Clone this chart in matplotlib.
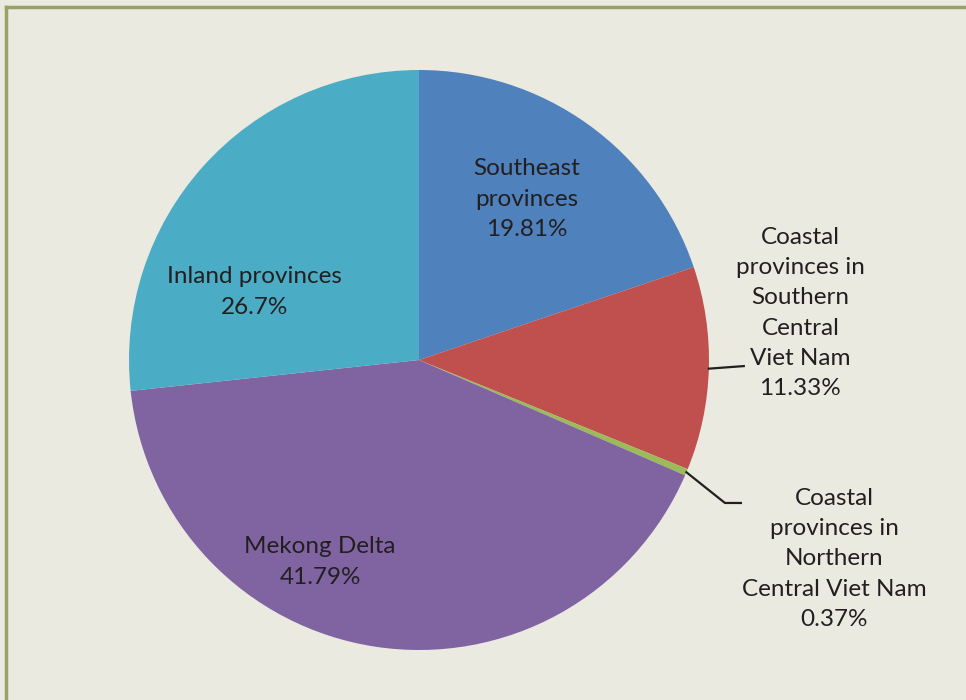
import numpy as np
import matplotlib
matplotlib.use('Agg')
import matplotlib.pyplot as plt
from matplotlib.lines import Line2D

# data
regions = ['Southeast\nprovinces', 'Coastal\nprovinces in\nSouthern\nCentral\nViet Nam',
           'Coastal\nprovinces in\nNorthern\nCentral Viet Nam', 'Mekong Delta', 'Inland provinces']
shares = [19.81, 11.33, 0.37, 41.79, 26.7]
share_labels = ['19.81%', '11.33%', '0.37%', '41.79%', '26.7%']
colors = ['#4F81BD', '#C0504D', '#9BBB59', '#8064A2', '#4BACC6']

# label placement (in pie radius units)
label_pos = [(0.372, 0.555), (1.315, 0.162), (1.431, -0.686), (-0.341, -0.697), (-0.566, 0.234)]
# leader line elbows for outside labels
leaders = {1: [(1.12, -0.021)], 2: [(1.055, -0.493), (1.110, -0.493)]}

bg = '#EBEAE0'
txt = '#231F20'
plt.rcParams['font.family'] = ['Lato', 'DejaVu Sans']

W, H = 966, 700
fig = plt.figure(figsize=(W / 100, H / 100), dpi=100, facecolor=bg)

cx, cy, r = 419, 360, 290
ax = fig.add_axes([(cx - r) / W, (H - cy - r) / H, 2 * r / W, 2 * r / H])
ax.set_facecolor(bg)

wedges, _ = ax.pie(shares, colors=colors, startangle=90, counterclock=False,
                   radius=1, wedgeprops=dict(linewidth=0))
ax.set_xlim(-1, 1)
ax.set_ylim(-1, 1)
ax.set_aspect('equal')
ax.axis('off')

for i, (name, lab) in enumerate(zip(regions, share_labels)):
    x, y = label_pos[i]
    ax.text(x, y, name + '\n' + lab, ha='center', va='center', fontsize=17.5,
            color=txt, linespacing=1.55, clip_on=False)

for i, pts in leaders.items():
    w = wedges[i]
    mid = np.deg2rad((w.theta1 + w.theta2) / 2)
    xs = [np.cos(mid)] + [p[0] for p in pts]
    ys = [np.sin(mid)] + [p[1] for p in pts]
    ax.plot(xs, ys, color=txt, lw=1.6, clip_on=False)

# frame border
bc = '#9AA066'
fig.add_artist(Line2D([6 / W, 1], [1 - 7 / H, 1 - 7 / H], transform=fig.transFigure, color=bc, lw=2.5))
fig.add_artist(Line2D([6 / W, 6 / W], [0, 1 - 7 / H], transform=fig.transFigure, color=bc, lw=2.5))

plt.savefig('out.png', dpi=100, facecolor=bg)
